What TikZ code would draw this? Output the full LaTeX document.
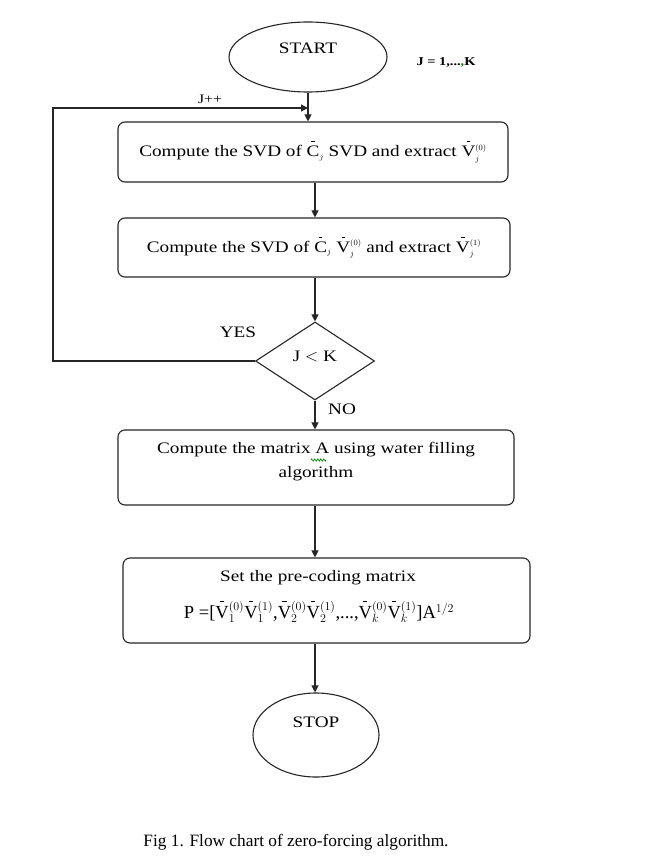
\documentclass[tikz,border=0pt]{standalone}
\usepackage{fontspec}
\setmainfont{Liberation Serif}
\newfontfamily\wideserif[FakeStretch=1.2]{Liberation Serif}
\usetikzlibrary{shapes.geometric,arrows.meta,decorations.pathmorphing}
\newcommand\ovb[1]{\setbox0\hbox{#1}\rlap{\hbox to\wd0{\hss\raisebox{0.9em}{\rule{0.22em}{0.06em}}\hss}}\box0}
\newcommand\sj[1]{$_{\scriptscriptstyle j}^{\scriptscriptstyle (#1)}$}
\newcommand\sjo{$_{\scriptscriptstyle j}$}
\begin{document}
\begin{tikzpicture}[x=1pt,y=-1pt,
  every node/.style={font=\wideserif\fontsize{16}{19}\selectfont},
  line/.style={draw=black!85, line width=1.1pt},
  arr/.style={line, -{Triangle[length=7pt,width=7pt]}},
  procbox/.style={line, rounded corners=7pt, inner sep=0pt},
  term/.style={line, ellipse, inner sep=0pt},
  txt/.style={inner sep=0pt, align=center}]
\useasboundingbox (0,0) rectangle (646,858);
\fill[white] (0,0) rectangle (646,858);

% terminals
\node[term, minimum width=158pt, minimum height=70pt] (start) at (308,57) {};
\node[txt] (starttxt) at (308,48) {START};
\node[txt, font=\wideserif\fontsize{12}{14}\selectfont\bfseries] (jrange) at (446,62) {J = 1,...{\color{green!55!black},}K};

% process boxes
\node[procbox, minimum width=390pt, minimum height=60pt] (box1) at (313,152)
  {Compute the SVD of \ovb{C}\sjo{} SVD and extract \ovb{V}\sj{0}};
\node[procbox, minimum width=392pt, minimum height=59pt] (box2) at (314,247.5)
  {Compute the SVD of \ovb{C}\sjo{}\ \ovb{V}\sj{0} and extract \ovb{V}\sj{1}};

% decision
\node[line, diamond, minimum width=119pt, minimum height=78pt, inner sep=0pt] (dia) at (315,361) {};
\node[txt] (diatxt) at (315,356) {J $<$ K};
\node[txt] (yes) at (238,332) {YES};
\node[txt] (no) at (342,409) {NO};

\node[procbox, minimum width=396pt, minimum height=75pt] (box3) at (316,467.5) {};
\node[txt, font=\wideserif\fontsize{16}{24}\selectfont] (box3txt) at (316,462)
  {Compute the matrix A using water filling\\algorithm};
\coordinate (sq1) at (311,460);
\coordinate (sq2) at (326,460);
\draw[green!55!black, line width=0.6pt, decorate, decoration={zigzag, amplitude=1.2pt, segment length=3pt}]
  (sq1) -- (sq2);

\node[procbox, minimum width=407pt, minimum height=85pt] (box4) at (326.5,600.5) {};
\node[txt] (box4a) at (318,578) {Set the pre-coding matrix};
\node[txt, font=\fontsize{18.5}{20}\selectfont] (box4b) at (319,612)
  {P =[\ovb{V}$_1^{(0)}$\ovb{V}$_1^{(1)}$,\ovb{V}$_2^{(0)}$\ovb{V}$_2^{(1)}$,...,\ovb{V}$_k^{(0)}$\ovb{V}$_k^{(1)}$]A$^{1/2}$};

\node[term, minimum width=126pt, minimum height=84pt] (stop) at (316,735) {};
\node[txt] (stoptxt) at (316,722) {STOP};

\node[txt, font=\fontsize{17.3}{20}\selectfont] (cap) at (296,842) {Fig 1. Flow chart of zero-forcing algorithm.};

% connectors
\coordinate (axis) at (315,0);
\draw[arr] (start.south) -- (start.south |- box1.north);
\draw[arr] (box1.south -| axis) -- (box2.north -| axis);
\draw[arr] (box2.south -| axis) -- (dia.north);
\draw[arr] (dia.south) -- (box3.north -| axis);
\draw[arr] (box3.south -| axis) -- (box4.north -| axis);
\draw[arr] (box4.south -| axis) -- (stop.north -| axis);
\coordinate (loopL) at (53,361);
\coordinate (loopT) at (53,108);
\draw[arr] (dia.west) -- (loopL) -- (loopT) -- (loopT -| start.south);
\node[txt, font=\wideserif\fontsize{13}{15}\selectfont] (jpp) at (210,99) {J++};
\end{tikzpicture}
\end{document}
